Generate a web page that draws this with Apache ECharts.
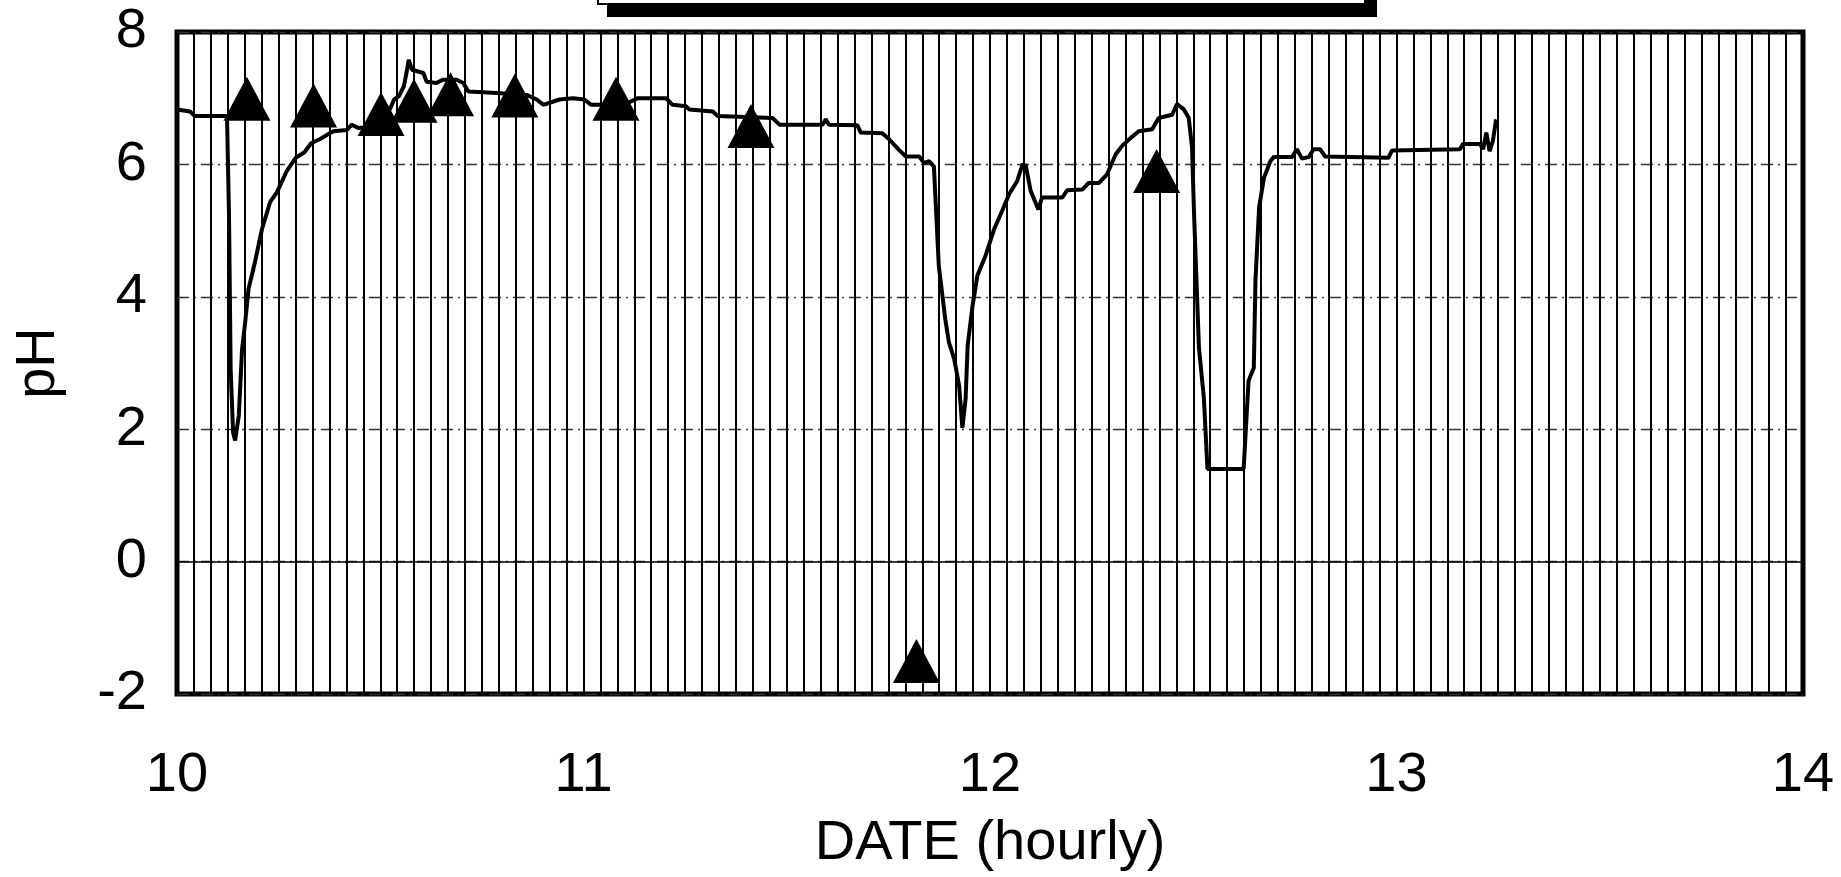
<!DOCTYPE html>
<html>
<head>
<meta charset="utf-8">
<script src="https://cdn.jsdelivr.net/npm/echarts@6/dist/echarts.min.js"></script>
<style>
  html, body { margin: 0; padding: 0; background: #fff; }
  #chart { width: 1841px; height: 877px; }
</style>
</head>
<body>
<div id="chart"></div>
<script>
// ---- data ----
const lineTime = [
  10.000, 10.032, 10.044, 10.123, 10.128, 10.132, 10.138, 10.143, 10.152, 10.160,
  10.168, 10.176, 10.192, 10.209, 10.229, 10.246, 10.270, 10.292, 10.313, 10.330,
  10.351, 10.370, 10.385, 10.418, 10.430, 10.446, 10.500, 10.525, 10.534, 10.546,
  10.558, 10.566, 10.570, 10.578, 10.606, 10.614, 10.638, 10.655, 10.688, 10.704,
  10.717, 10.786, 10.860, 10.885, 10.901, 10.941, 10.974, 11.002, 11.019, 11.100,
  11.133, 11.203, 11.219, 11.252, 11.260, 11.318, 11.330, 11.465, 11.482, 11.588,
  11.596, 11.604, 11.674, 11.682, 11.735, 11.752, 11.776, 11.793, 11.826, 11.838,
  11.850, 11.862, 11.874, 11.890, 11.899, 11.912, 11.924, 11.932, 11.940, 11.945,
  11.957, 11.969, 11.989, 12.010, 12.030, 12.047, 12.067, 12.080, 12.088, 12.100,
  12.119, 12.128, 12.178, 12.190, 12.227, 12.243, 12.268, 12.288, 12.309, 12.325,
  12.346, 12.366, 12.399, 12.415, 12.448, 12.460, 12.477, 12.489, 12.497, 12.502,
  12.514, 12.526, 12.535, 12.624, 12.636, 12.649, 12.653, 12.662, 12.674, 12.690,
  12.698, 12.743, 12.755, 12.767, 12.784, 12.796, 12.812, 12.824, 12.980, 12.989,
  13.156, 13.164, 13.205, 13.213, 13.221, 13.229, 13.237, 13.245
];
const linePH = [
  6.83, 6.80, 6.73, 6.73, 5.20, 2.90, 1.95, 1.83, 2.20, 3.20,
  3.63, 4.12, 4.53, 5.02, 5.43, 5.58, 5.90, 6.10, 6.18, 6.32,
  6.38, 6.45, 6.50, 6.52, 6.60, 6.55, 6.58, 6.85, 6.98, 7.03,
  7.18, 7.43, 7.58, 7.43, 7.38, 7.25, 7.23, 7.28, 7.28, 7.23,
  7.10, 7.08, 7.05, 6.98, 6.90, 6.98, 7.00, 6.98, 6.90, 6.90,
  7.00, 7.00, 6.90, 6.88, 6.83, 6.80, 6.73, 6.70, 6.60, 6.60,
  6.68, 6.60, 6.59, 6.48, 6.47, 6.38, 6.22, 6.12, 6.12, 6.02,
  6.05, 5.97, 4.47, 3.66, 3.31, 3.06, 2.66, 2.02, 2.46, 3.26,
  3.86, 4.32, 4.62, 5.02, 5.30, 5.55, 5.75, 6.00, 5.98, 5.60,
  5.32, 5.50, 5.50, 5.61, 5.62, 5.72, 5.72, 5.85, 6.15, 6.28,
  6.40, 6.50, 6.53, 6.70, 6.75, 6.91, 6.83, 6.70, 6.25, 5.25,
  3.23, 2.48, 1.40, 1.40, 2.73, 2.93, 4.24, 5.35, 5.80, 6.05,
  6.11, 6.11, 6.23, 6.09, 6.11, 6.23, 6.23, 6.12, 6.10, 6.21,
  6.23, 6.31, 6.31, 6.23, 6.48, 6.20, 6.35, 6.68
];
const markerTime = [10.172, 10.336, 10.502, 10.583, 10.673, 10.831, 11.080, 11.412, 11.819, 12.410];
const markerPH   = [6.99, 6.89, 6.76, 6.96, 7.06, 7.04, 6.99, 6.58, -1.50, 5.90];
const xTicks = [10, 11, 12, 13, 14];
const yTicks = [-2, 0, 2, 4, 6, 8];

// ---- chart ----
const FONT = "'Liberation Sans', Arial, Helvetica, sans-serif";
const chart = echarts.init(document.getElementById('chart'), null, { renderer: 'canvas' });
const lineData = lineTime.map((t, i) => [t, linePH[i]]);
const markerData = markerTime.map((t, i) => [t, markerPH[i]]);

chart.setOption({
  animation: false,
  backgroundColor: '#fff',
  textStyle: { fontFamily: FONT, color: '#000' },
  grid: {
    left: 177, right: 38, top: 32, bottom: 180,
    show: true, borderColor: '#000', borderWidth: 5, backgroundColor: 'transparent'
  },
  graphic: [
    { type: 'rect', z: 10, shape: { x: 607, y: -30, width: 770, height: 47 }, style: { fill: '#000' } },
    { type: 'rect', z: 11, shape: { x: 598, y: -30, width: 767, height: 34 }, style: { fill: '#fff', stroke: '#000', lineWidth: 2 } }
  ],
  xAxis: {
    type: 'value',
    min: xTicks[0], max: xTicks[xTicks.length - 1], interval: 1,
    axisLine: { show: false },
    axisTick: { show: false },
    axisLabel: {
      fontSize: 56, color: '#000', margin: 54, fontFamily: FONT,
      formatter: v => (xTicks.indexOf(v) >= 0 ? String(v) : '')
    },
    splitLine: { show: true, lineStyle: { color: '#000', width: 2 } },
    minorTick: { show: false, splitNumber: 24 },
    minorSplitLine: { show: true, lineStyle: { color: '#000', width: 2 } },
    name: 'DATE (hourly)',
    nameLocation: 'middle',
    nameGap: 122,
    nameTextStyle: { fontSize: 56, color: '#000', fontFamily: FONT }
  },
  yAxis: {
    type: 'value',
    min: yTicks[0], max: yTicks[yTicks.length - 1], interval: 2,
    axisLine: { show: false },
    axisTick: { show: false },
    axisLabel: {
      fontSize: 56, color: '#000', margin: 30, fontFamily: FONT,
      formatter: v => (yTicks.indexOf(v) >= 0 ? String(v) : '')
    },
    splitLine: { show: true, lineStyle: { color: '#333', width: 1.3, type: [12, 5, 2, 5] } },
    name: 'pH',
    nameLocation: 'middle',
    nameGap: 110,
    nameTextStyle: { fontSize: 56, color: '#000', fontFamily: FONT }
  },
  series: [
    {
      type: 'line',
      data: lineData,
      showSymbol: false,
      symbol: 'none',
      z: 3,
      lineStyle: { color: '#000', width: 4 },
      markLine: {
        silent: true,
        symbol: ['none', 'none'],
        label: { show: false },
        lineStyle: { color: '#000', type: 'solid', width: 1.6 },
        data: [{ yAxis: 0 }]
      }
    },
    {
      type: 'scatter',
      data: markerData,
      symbol: 'triangle',
      symbolSize: [47, 44],
      z: 4,
      itemStyle: { color: '#000', opacity: 1 }
    }
  ]
});
</script>
</body>
</html>
